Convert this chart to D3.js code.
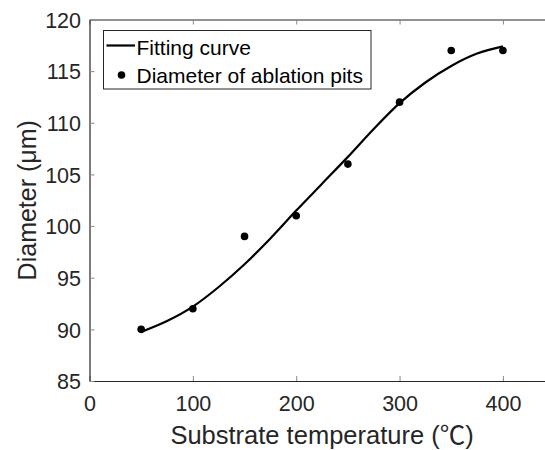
<!DOCTYPE html>
<html><head><meta charset="utf-8">
<script src="https://cdn.jsdelivr.net/npm/d3@7"></script>
<style>
body{margin:0;background:#fff;}
svg{display:block;font-family:Arial,"Liberation Sans",Helvetica,sans-serif;}
</style></head>
<body><svg id="c" width="545" height="450"></svg>
<script>
// data
const temps = [50, 100, 150, 200, 250, 300, 350, 400];
const diameters = [90, 92, 99, 101, 106, 112, 117, 117];
const fitX = [50, 75, 100, 125, 150, 175, 200, 225, 250, 275, 300, 325, 350, 375, 400];
const fitY = [89.75, 90.8, 92.2, 94.1, 96.3, 98.8, 101.5, 104.1, 106.7, 109.4, 111.9, 113.9, 115.5, 116.7, 117.4];
const xTicks = [0, 100, 200, 300, 400];
const yTicks = [85, 90, 95, 100, 105, 110, 115, 120];
const legendLabels = ["Fitting curve", "Diameter of ablation pits"];
const xLabelMain = "Substrate temperature (";
const xLabelUnit = "℃";
const yLabel = "Diameter (μm)";

const svg = d3.select("#c");
const L = 89.5, R = 554.6, T = 19.5, B = 381;
const x = d3.scaleLinear().domain([0, 450]).range([L, R]);
const y = d3.scaleLinear().domain([85, 120]).range([B, T]);
const axisCol = "#262626";

// bottom axis
const gx = svg.append("g").attr("transform", `translate(0,${B})`)
  .call(d3.axisBottom(x).tickValues(xTicks).tickSizeInner(-5).tickSizeOuter(0).tickPadding(15));
// top axis
const gt = svg.append("g").attr("transform", `translate(0,${T})`)
  .call(d3.axisTop(x).tickValues(xTicks).tickSizeInner(-5).tickSizeOuter(0).tickFormat(""));
// left axis
const gy = svg.append("g").attr("transform", `translate(${L},0)`)
  .call(d3.axisLeft(y).tickValues(yTicks).tickSizeInner(-5).tickSizeOuter(0).tickPadding(8.5));

[gx, gt, gy].forEach(g => {
  g.select(".domain").attr("stroke", axisCol).attr("stroke-width", 1.2);
  g.selectAll(".tick line").attr("stroke", "#888").attr("stroke-width", 1);
  g.selectAll(".tick text").attr("fill", axisCol).style("font-size", "21.5px")
   .style("font-family", "Arial, 'Liberation Sans', sans-serif");
});
gy.selectAll(".tick text").attr("dy", "0.36em");

// curve
const fit = fitX.map((v, i) => [v, fitY[i]]);
svg.append("path").datum(fit)
  .attr("fill", "none").attr("stroke", "#000").attr("stroke-width", 2.2)
  .attr("d", d3.line().x(d => x(d[0])).y(d => y(d[1])).curve(d3.curveMonotoneX));

// points
svg.append("g").selectAll("circle").data(temps).join("circle")
  .attr("cx", d => x(d)).attr("cy", (d, i) => y(diameters[i])).attr("r", 3.8).attr("fill", "#000");

// axis labels
const xl = svg.append("text").attr("x", (L + R) / 2).attr("y", 444).attr("text-anchor", "middle")
  .attr("fill", axisCol).style("font-size", "25.5px");
xl.append("tspan").text(xLabelMain);
xl.append("tspan").style("font-family", "'Noto Sans CJK SC'").text(xLabelUnit);
xl.append("tspan").text(")");
svg.append("text").attr("transform", `translate(35.5,${(T + B) / 2}) rotate(-90)`)
  .attr("text-anchor", "middle").attr("fill", axisCol).style("font-size", "25px").text(yLabel);

// legend
const lg = svg.append("g");
lg.append("rect").attr("x", 103.5).attr("y", 30.5).attr("width", 267.5).attr("height", 58.5)
  .attr("fill", "#fff").attr("stroke", "#262626").attr("stroke-width", 1);
lg.append("line").attr("x1", 106.5).attr("x2", 135).attr("y1", 45.5).attr("y2", 45.5)
  .attr("stroke", "#000").attr("stroke-width", 2.2);
lg.append("circle").attr("cx", 121.5).attr("cy", 75).attr("r", 3.8).attr("fill", "#000");
lg.selectAll("text").data(legendLabels).join("text")
  .attr("x", 136.5).attr("y", (d, i) => 55 + i * 28.3)
  .attr("fill", "#000").style("font-size", "21px").text(d => d);
</script></body></html>
